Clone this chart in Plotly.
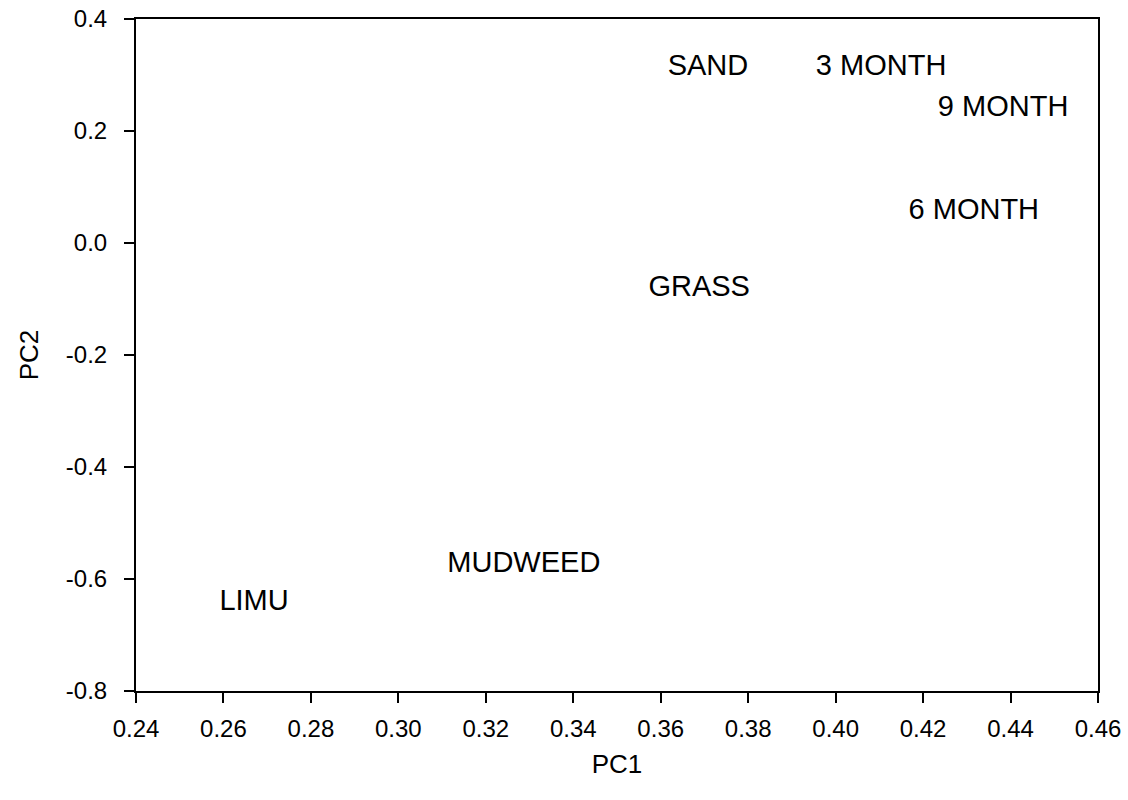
import plotly.graph_objects as go

labels = ["SAND", "3 MONTH", "9 MONTH", "6 MONTH", "GRASS", "MUDWEED", "LIMU"]
pc1 = [0.3708, 0.4104, 0.4383, 0.4316, 0.3688, 0.3287, 0.2670]
pc2 = [0.313, 0.313, 0.240, 0.056, -0.0816, -0.574, -0.642]

x_ticks = [0.24, 0.26, 0.28, 0.30, 0.32, 0.34, 0.36, 0.38, 0.40, 0.42, 0.44, 0.46]
y_ticks = [-0.8, -0.6, -0.4, -0.2, 0.0, 0.2, 0.4]

FONT = "Liberation Sans, Arial, sans-serif"

fig = go.Figure(go.Scatter(
    x=pc1, y=pc2, text=labels, mode="text",
    textposition="middle center",
    textfont=dict(family=FONT, size=29, color="black"),
    hoverinfo="skip", showlegend=False, cliponaxis=False,
))

axis_common = dict(
    showgrid=False, zeroline=False, showline=True, linecolor="black", linewidth=2,
    mirror=True, ticks="outside", ticklen=10, tickwidth=2, tickcolor="black",
    tickfont=dict(family=FONT, size=24, color="black"), automargin=False,
    ticklabeloverflow="allow",
)

fig.update_xaxes(range=[0.24, 0.46], tickvals=x_ticks,
                 ticktext=[f"{v:.2f}" for v in x_ticks],
                 ticklabelstandoff=5,
                 title=dict(text="PC1", font=dict(family=FONT, size=26, color="black"), standoff=14),
                 **axis_common)
fig.update_yaxes(range=[-0.8, 0.4], tickvals=y_ticks,
                 ticktext=[f"{v:.1f}" for v in y_ticks],
                 ticklabelstandoff=12,
                 title=dict(text="PC2", font=dict(family=FONT, size=26, color="black"), standoff=20),
                 **axis_common)

fig.update_layout(
    width=1128, height=800,
    margin=dict(l=136, r=30, t=19, b=109),
    plot_bgcolor="white", paper_bgcolor="white",
)

# remove the page's default 8px body margin so the figure fills the window exactly
fig.write_html("out.html",
               config={"displayModeBar": False, "staticPlot": True},
               post_script="document.body.style.margin='0';document.body.style.overflow='hidden';")
